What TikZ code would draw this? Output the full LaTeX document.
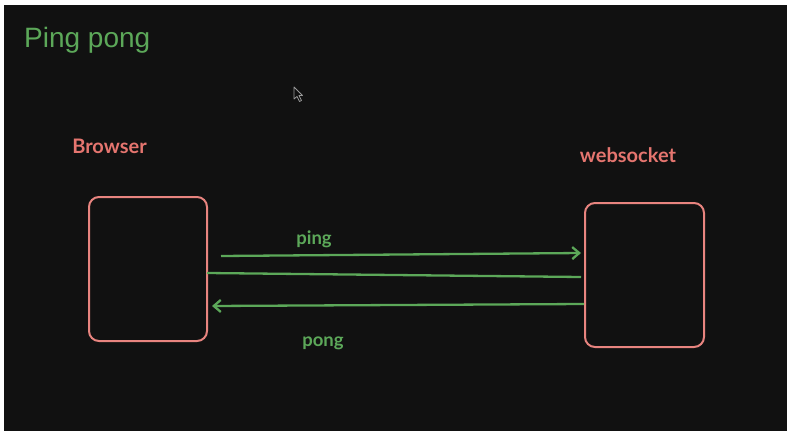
\documentclass[tikz,border=0pt]{standalone}
\usepackage{fontspec}
\setmainfont{Liberation Sans}
\newfontfamily\labfont{Lato}
\usetikzlibrary{arrows.meta}
\definecolor{bg}{HTML}{111111}
\definecolor{grn}{HTML}{5CA859}
\definecolor{salmon}{HTML}{E5756F}
\definecolor{boxline}{HTML}{E8847F}
\begin{document}
\begin{tikzpicture}[x=1pt,y=-1pt,
  box/.style={draw=boxline, line width=2pt, rounded corners=10pt, minimum width=#1, minimum height=144pt, inner sep=0pt},
  lbl/.style={text=salmon, font=\labfont\bfseries\fontsize{20}{22}\selectfont, anchor=base, inner sep=0pt},
  msg/.style={text=grn, font=\labfont\bfseries\fontsize{18.5}{20}\selectfont, anchor=base, inner sep=0pt},
  wire/.style={draw=grn, line width=2.3pt},
  tip/.style={-{Straight Barb[length=7pt,width=12pt]}}
]
\useasboundingbox (0,0) rectangle (787,431);
\fill[white] (0,0) rectangle (787,431);
\fill[bg] (4,5) rectangle (787,431);

\node[anchor=base west, inner sep=0pt, text=grn, font=\fontsize{28}{30}\selectfont] (title) at (24,47) {Ping pong};

\node[lbl] (browserlbl) at (109.5,153) {Browser};
\node[lbl] (wslbl) at (628,162) {websocket};

\node[box=118pt] (browser) at (148,269) {};
\node[box=119pt] (ws) at (644.5,275) {};

\draw[wire,tip] ([shift={(13,-13)}]browser.east) -- ([shift={(-3,-22)}]ws.west);
\draw[wire] ([shift={(-1,4)}]browser.east) -- ([shift={(-3,2)}]ws.west);
\draw[wire,tip] ([shift={(0,29)}]ws.west) -- ([shift={(4,37)}]browser.east);

\node[msg] (ping) at (314,244) {ping};
\node[msg] (pong) at (323,346) {pong};

% mouse cursor
\draw[draw=gray!80, fill=bg, line width=0.8pt, line join=round]
  (294,87) -- (294,99) -- (297,96.5) -- (299.5,101.5) -- (301.5,100.5) -- (299,95.5) -- (302.5,95.5) -- cycle;
\end{tikzpicture}
\end{document}
